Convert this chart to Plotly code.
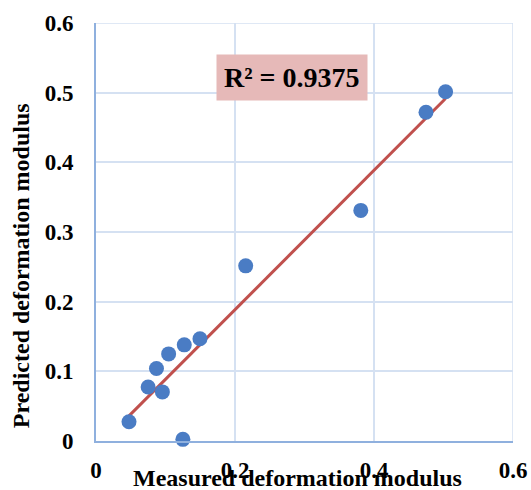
import numpy as np
import plotly.graph_objects as go

measured = [0.0475, 0.125, 0.075, 0.0955, 0.087, 0.1045, 0.127, 0.1496, 0.2154, 0.381, 0.4748, 0.503]
predicted = [0.0276, 0.0024, 0.0776, 0.0705, 0.104, 0.125, 0.138, 0.1467, 0.2514, 0.331, 0.4719, 0.5014]
tick_vals = [0, 0.1, 0.2, 0.3, 0.4, 0.5, 0.6]
tick_text = ["0", "0.1", "0.2", "0.3", "0.4", "0.5", "0.6"]
x_tick_vals = [0, 0.2, 0.4, 0.6]
x_tick_text = ["0", "0.2", "0.4", "0.6"]
r2_label = "R² = 0.9375"
x_title = "Measured deformation modulus"
y_title = "Predicted deformation modulus"

slope, intercept = np.polyfit(measured, predicted, 1)
xfit = np.array([min(measured), max(measured)])
yfit = slope * xfit + intercept

FONT = "'Liberation Serif', 'Times New Roman', serif"
fig = go.Figure()
fig.add_trace(go.Scatter(x=xfit, y=yfit, mode="lines",
                         line=dict(color="#C0504D", width=3), showlegend=False))
fig.add_trace(go.Scatter(x=measured, y=predicted, mode="markers", cliponaxis=False,
                         marker=dict(color="#4A7CC4", size=15), showlegend=False))

tf = dict(family=FONT, size=23, color="black")
fig.update_layout(
    width=531, height=490,
    margin=dict(l=96, r=18, t=23, b=49),
    plot_bgcolor="white", paper_bgcolor="white",
    font=dict(family=FONT, color="black"),
    xaxis=dict(range=[0, 0.6], tickvals=x_tick_vals,
               ticktext=["<b>" + t + "</b>" for t in x_tick_text],
               showgrid=True, gridcolor="#D5E1F2", gridwidth=1.5, automargin=False,
               showline=True, linecolor="#8FB0DE", linewidth=2, zeroline=False,
               tickfont=tf, ticklabelstandoff=7),
    yaxis=dict(range=[0, 0.6], tickvals=tick_vals,
               ticktext=["<b>" + t + "</b>" for t in tick_text],
               showgrid=True, gridcolor="#D5E1F2", gridwidth=1.5, automargin=False,
               showline=True, linecolor="#8FB0DE", linewidth=2, zeroline=False,
               tickfont=tf, ticklabelstandoff=16),
)
fig.add_shape(type="line", xref="x", yref="y", x0=0.6, x1=0.6, y0=0, y1=0.6,
              line=dict(color="#D5E1F2", width=1.5), layer="below")
fig.add_shape(type="line", xref="x", yref="y", x0=0, x1=0.6, y0=0.6, y1=0.6,
              line=dict(color="#D5E1F2", width=1.5), layer="below")

fig.add_annotation(xref="paper", yref="paper", x=0.484, y=-0.088,
                   text="<b>" + x_title + "</b>", showarrow=False,
                   font=dict(family=FONT, size=24, color="black"), yanchor="middle")
fig.add_annotation(xref="paper", yref="paper", x=-0.178, y=0.42,
                   text="<b>" + y_title + "</b>", showarrow=False, textangle=-90,
                   font=dict(family=FONT, size=24, color="black"), xanchor="center")
fig.add_annotation(xref="x", yref="y", x=0.2813, y=0.522,
                   text="<b>" + r2_label + "</b>", showarrow=False,
                   bgcolor="#E6B9B8", borderpad=7,
                   font=dict(family=FONT, size=28, color="black"))

fig.write_html("out.html")
